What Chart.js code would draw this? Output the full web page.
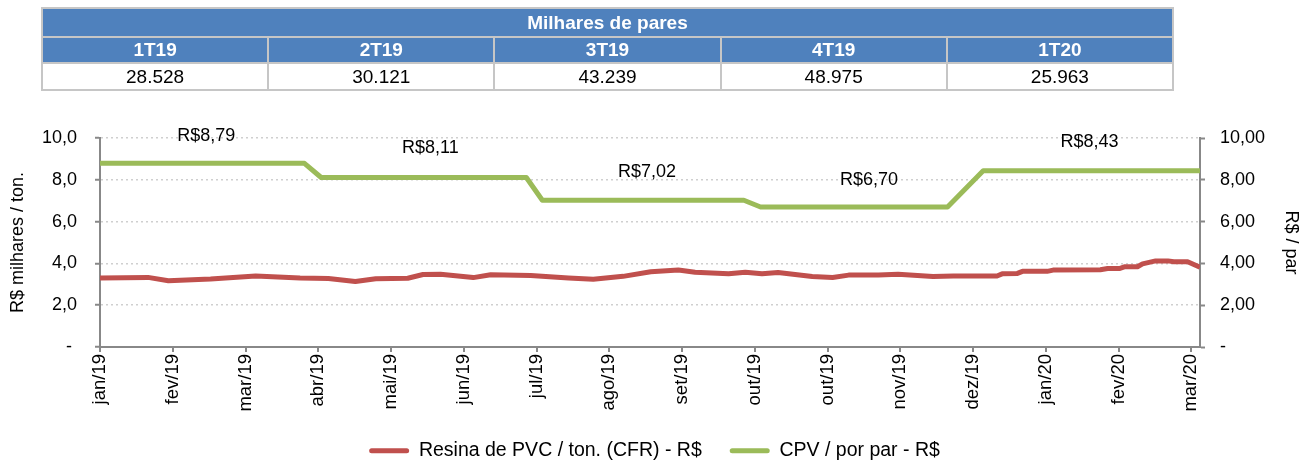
<!DOCTYPE html>
<html><head><meta charset="utf-8">
<script src="https://cdn.jsdelivr.net/npm/chart.js@4.4.0/dist/chart.umd.min.js"></script>
<style>
html,body{margin:0;padding:0;background:#fff;}
body{width:1309px;height:466px;position:relative;overflow:hidden;font-family:"Liberation Sans",Arial,sans-serif;}
#tbl{position:absolute;left:41px;top:7px;width:1133px;border-collapse:collapse;table-layout:fixed;}
#tbl td{border:2px solid #c6c6c6;text-align:center;padding:0;font-size:19px;color:#000;line-height:20px;}
#tbl tr.h td{background:#4F81BD;color:#fff;font-weight:bold;}
#wrap{position:absolute;left:0;top:0;width:1309px;height:466px;}
</style></head><body>
<div id="wrap"><canvas id="c" width="1309" height="466"></canvas></div>
<table id="tbl"></table>
<script>
// ---- data ----
const tableTitle = 'Milhares de pares';
const quarters = ['1T19', '2T19', '3T19', '4T19', '1T20'];
const pairsThousands = ['28.528', '30.121', '43.239', '48.975', '25.963'];

const monthLabels = ['jan/19','fev/19','mar/19','abr/19','mai/19','jun/19','jul/19','ago/19','set/19','out/19','out/19','nov/19','dez/19','jan/20','fev/20','mar/20'];

// x in months since jan/19
const resinX = [0, 0.66, 0.94, 1.52, 2.14, 2.75, 3.14, 3.51, 3.79, 4.23, 4.44, 4.68, 5.13, 5.37, 5.92, 6.44, 6.78, 7.19, 7.57, 7.95, 8.18, 8.64, 8.87, 9.10, 9.32, 9.79, 10.07, 10.29, 10.70, 10.97, 11.45, 11.73, 12.33, 12.40, 12.61, 12.68, 13.02, 13.10, 13.75, 13.85, 14.02, 14.09, 14.26, 14.33, 14.51, 14.68, 14.76, 14.95, 15.12];
const resinValues = [3.30, 3.33, 3.17, 3.25, 3.40, 3.30, 3.28, 3.13, 3.27, 3.29, 3.47, 3.48, 3.32, 3.46, 3.42, 3.30, 3.24, 3.38, 3.60, 3.68, 3.58, 3.50, 3.58, 3.50, 3.56, 3.37, 3.33, 3.44, 3.44, 3.48, 3.37, 3.40, 3.40, 3.50, 3.52, 3.62, 3.62, 3.68, 3.70, 3.76, 3.76, 3.84, 3.84, 3.98, 4.12, 4.12, 4.08, 4.08, 3.82];

const cpvX = [0, 2.81, 3.04, 5.86, 6.08, 8.85, 9.08, 11.65, 12.14, 15.12];
const cpvValues = [8.79, 8.79, 8.11, 8.11, 7.02, 7.02, 6.70, 6.70, 8.43, 8.43];

const cpvLabelTexts = ['R$8,79', 'R$8,11', 'R$7,02', 'R$6,70', 'R$8,43'];
const cpvLabelX = [1.46, 4.54, 7.52, 10.57, 13.6];
const cpvLabelY = [10.1, 9.5, 8.37, 7.97, 9.8];

const xMax = 15.12;

// ---- table ----
(function(){
  const t = document.getElementById('tbl');
  let html = '<tr class="h" style="height:29px"><td colspan="5">' + tableTitle + '</td></tr>';
  html += '<tr class="h" style="height:26px">' + quarters.map(q => '<td>' + q + '</td>').join('') + '</tr>';
  html += '<tr style="height:27px">' + pairsThousands.map(v => '<td>' + v + '</td>').join('') + '</tr>';
  t.innerHTML = html;
})();

// ---- chart ----
Chart.defaults.font.family = "'Liberation Sans', Arial, sans-serif";
Chart.defaults.color = '#000';

const axisGrey = '#888888';
const FONT = 18;
const LEGEND_FONT = 19.5;

const labelPlugin = {
  id: 'cpvLabels',
  afterDatasetsDraw(chart) {
    const ctx = chart.ctx, xs = chart.scales.x, ys = chart.scales.y1;
    ctx.save();
    ctx.font = FONT + "px 'Liberation Sans', Arial, sans-serif";
    ctx.fillStyle = '#000';
    ctx.textAlign = 'center';
    ctx.textBaseline = 'middle';
    cpvLabelTexts.forEach((t, i) => {
      ctx.fillText(t, xs.getPixelForValue(cpvLabelX[i]), ys.getPixelForValue(cpvLabelY[i]));
    });
    ctx.restore();
  }
};

new Chart(document.getElementById('c'), {
  type: 'line',
  data: {
    datasets: [
      {
        label: 'Resina de PVC / ton. (CFR) - R$',
        data: resinX.map((x, i) => ({x: x, y: resinValues[i]})),
        borderColor: '#C0504D', backgroundColor: '#C0504D',
        borderWidth: 5, pointRadius: 0, tension: 0,
        borderJoinStyle: 'round', yAxisID: 'y'
      },
      {
        label: 'CPV / por par - R$',
        data: cpvX.map((x, i) => ({x: x, y: cpvValues[i]})),
        borderColor: '#9BBB59', backgroundColor: '#9BBB59',
        borderWidth: 5, pointRadius: 0, tension: 0,
        borderJoinStyle: 'round', yAxisID: 'y1'
      }
    ]
  },
  options: {
    responsive: false,
    animation: false,
    devicePixelRatio: 1,
    layout: { padding: { top: 138, left: 0, right: 0, bottom: 0 } },
    plugins: {
      tooltip: { enabled: false },
      legend: {
        position: 'bottom',
        maxHeight: 53,
        labels: {
          boxWidth: 40, boxHeight: 5, padding: 28,
          useBorderRadius: true, borderRadius: 2.5,
          font: { size: LEGEND_FONT }, color: '#000',
          generateLabels(chart) {
            return Chart.defaults.plugins.legend.labels.generateLabels(chart).map(l => { l.lineWidth = 0; return l; });
          }
        }
      }
    },
    scales: {
      x: {
        type: 'linear', min: 0, max: xMax,
        afterBuildTicks(s) { s.ticks = monthLabels.map((_, i) => ({ value: i })); },
        afterFit(s) { s.height = 66; },
        ticks: {
          autoSkip: false, maxRotation: 90, minRotation: 90, padding: 2,
          font: { size: 18.5 }, color: '#000',
          callback(v) { return monthLabels[v]; }
        },
        grid: { drawOnChartArea: false, drawTicks: true, tickLength: 5, color: axisGrey, tickColor: axisGrey, lineWidth: 2 },
        border: { display: true, color: axisGrey, width: 2 }
      },
      y: {
        position: 'left', min: 0, max: 10,
        afterBuildTicks(s) { s.ticks = [0, 2, 4, 6, 8, 10].map(v => ({ value: v })); },
        afterFit(s) { s.width = 100; },
        ticks: {
          padding: 18, font: { size: FONT }, color: '#000',
          callback(v) { return v === 0 ? '- ' : v.toFixed(1).replace('.', ','); }
        },
        title: { display: true, text: 'R$ milhares / ton.', font: { size: FONT }, color: '#000', padding: { top: 7, bottom: 0 } },
        grid: { color: '#cfcfcf', lineWidth: 1.5, drawTicks: true, tickLength: 5, tickColor: axisGrey, tickWidth: 2 },
        border: { display: true, color: axisGrey, width: 2, dash: [2, 3] }
      },
      y1: {
        position: 'right', min: 0, max: 10,
        afterBuildTicks(s) { s.ticks = [0, 2, 4, 6, 8, 10].map(v => ({ value: v })); },
        afterFit(s) { s.width = 109; },
        ticks: {
          padding: 15, font: { size: FONT }, color: '#000',
          callback(v) { return v === 0 ? '-' : v.toFixed(2).replace('.', ','); }
        },
        title: { display: true, text: 'R$ / par', font: { size: FONT }, color: '#000', padding: { top: 7, bottom: 0 } },
        grid: { drawOnChartArea: false, drawTicks: true, tickLength: 5, color: axisGrey, tickColor: axisGrey, tickWidth: 2 },
        border: { display: true, color: axisGrey, width: 2 }
      }
    }
  },
  plugins: [labelPlugin]
});
</script>
</body></html>
